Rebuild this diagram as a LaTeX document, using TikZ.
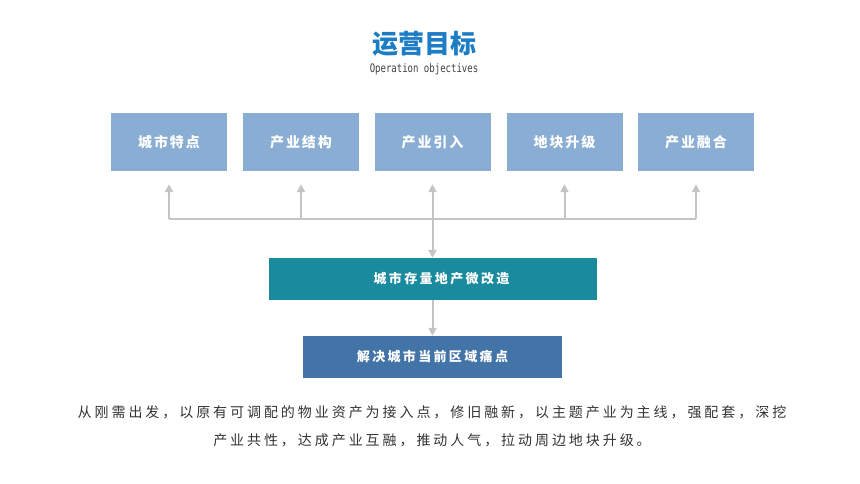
\documentclass[tikz,border=0pt]{standalone}
\usepackage{fontspec}
\setmainfont{Noto Sans CJK SC}
\newfontfamily\goalfont[LetterSpace = 14]{Noto Sans CJK SC}
\newfontfamily\widefont[LetterSpace = 18]{Noto Sans CJK SC}
\newfontfamily\parafont[LetterSpace = 21]{Noto Sans CJK SC}
\newfontfamily\subfont{DejaVu Sans Mono}
\usetikzlibrary{arrows.meta}

\definecolor{titleblue}{HTML}{1C7CC4}
\definecolor{goalblue}{HTML}{8AADD3}
\definecolor{renewteal}{HTML}{1A8A9F}
\definecolor{painblue}{HTML}{4374A8}
\definecolor{linegray}{HTML}{C4C4C4}
\definecolor{textgray}{HTML}{333333}

\begin{document}
\begin{tikzpicture}[x = 1pt, y = -1pt,
  goal/.style = {fill = goalblue, inner sep = 0pt, minimum width = 116pt, minimum height = 58pt, text = white, font = \goalfont\bfseries\fontsize{14}{14}\selectfont},
  band/.style = {inner sep = 0pt, minimum height = 42pt, text = white, font = \widefont\bfseries\fontsize{13}{13}\selectfont},
  link/.style = {linegray, line width = 2pt},
  tip/.style = {-{Triangle[width = 8pt, length = 8pt]}}]
\useasboundingbox (0,0) rectangle (860,484);

% title
\node (title) at (424,44) {\color{titleblue}\bfseries\fontsize{26}{26}\selectfont 运营目标};
\node (subtitle) at (424,69) {\color{darkgray}\subfont\fontsize{9}{9}\selectfont\scalebox{1}[1.3]{Operation objectives}};

% goals
\node[goal] (goal1) at (169,142) {城市特点};
\node[goal] (goal2) at (301,142) {产业结构};
\node[goal] (goal3) at (432.5,142) {产业引入};
\node[goal] (goal4) at (564.5,142) {地块升级};
\node[goal] (goal5) at (696,142) {产业融合};

\coordinate (rail) at (432.5,219);
\draw[link] (goal1.south |- rail) -- (goal5.south |- rail);
\foreach \i in {1,...,5}
  \draw[link,tip,shorten > = 13pt] (goal\i.south |- rail) -- (goal\i.south);

% renewal and pain points
\node[band, fill = renewteal, minimum width = 328pt] (renew) at (432.5,279) {\hspace*{18pt}城市存量地产微改造};
\node[band, fill = painblue, minimum width = 259pt] (pain) at (432.5,357) {解决城市当前区域痛点};

\draw[link,tip] (rail) -- (renew.north);
\draw[link,tip] (renew.south) -- (pain.north);

% summary
\node[align = center, text = textgray, font = \parafont\fontsize{14}{28}\selectfont] (summary) at (432,426)
  {从刚需出发，以原有可调配的物业资产为接入点，修旧融新，以主题产业为主线，强配套，深挖\\产业共性，达成产业互融，推动人气，拉动周边地块升级。};
\end{tikzpicture}
\end{document}
